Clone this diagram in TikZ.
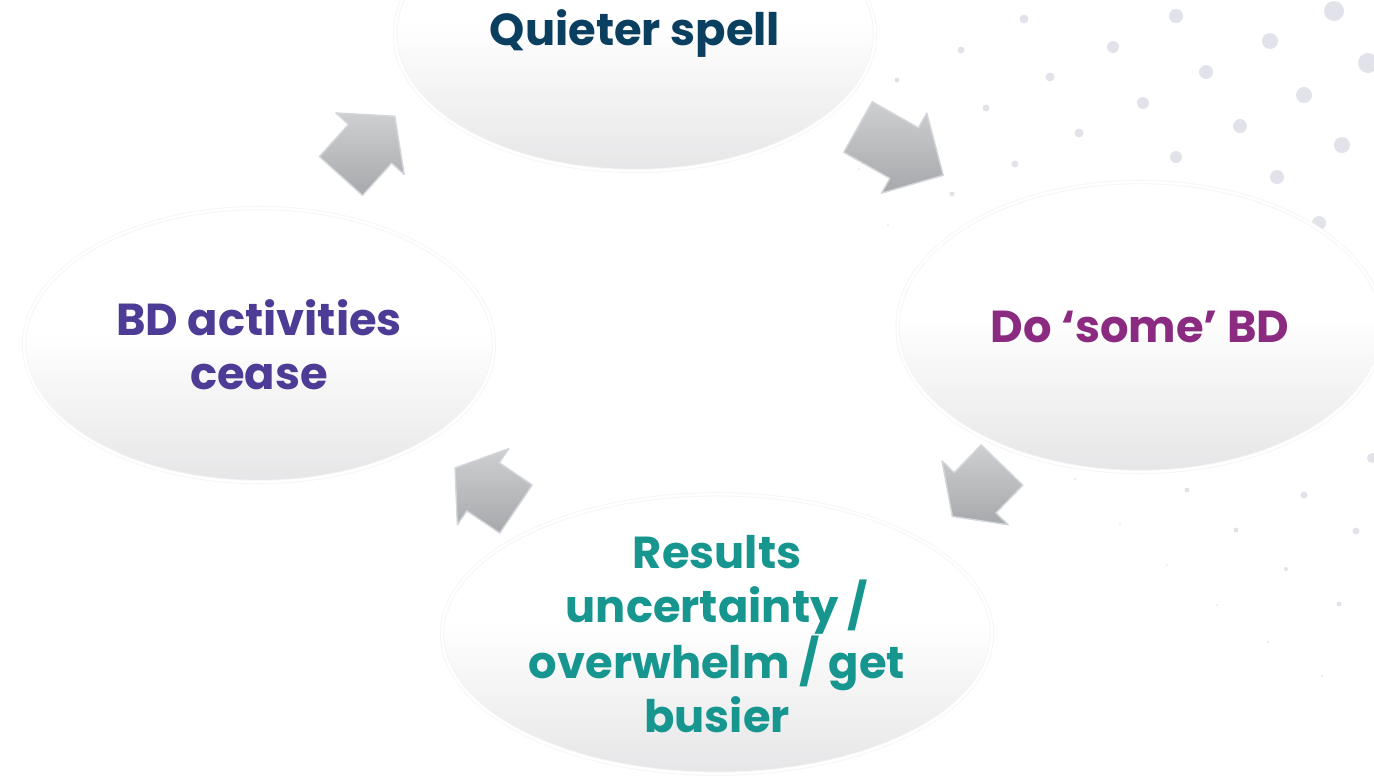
\documentclass[tikz,border=0pt]{standalone}
\usepackage{fontspec}
\setmainfont{Poppins}
\usepackage{tikz}
\usetikzlibrary{shapes.geometric,positioning}

\definecolor{quietblue}{HTML}{0A3F5F}
\definecolor{ceasepurple}{HTML}{4D3B95}
\definecolor{somepurple}{HTML}{8A2A80}
\definecolor{resultteal}{HTML}{17968F}
\definecolor{stagegray}{HTML}{E3E3E5}
\definecolor{dotgray}{HTML}{E2E2EA}
\definecolor{arrowgray}{HTML}{A6A8AB}
\definecolor{arrowedge}{HTML}{D3D7DC}

\pgfdeclareverticalshading{stageshade}{100bp}{color(0bp)=(stagegray); color(22bp)=(stagegray);
  color(52bp)=(white); color(100bp)=(white)}

\tikzset{
  stage/.style={ellipse, inner sep=0pt, shading=stageshade, draw=black!4, line width=0.5pt,
    double=white, double distance=1.4pt, align=center,
    font=\fontsize{25.5}{30.7}\selectfont\bfseries},
  cycle arrow/.pic={
    \filldraw[top color=arrowgray!55!white, bottom color=arrowgray, draw=arrowedge,
        line width=0.8pt, line join=round]
      (0,29) -- (53,29) -- (53,46) -- (98,0) -- (53,-46) -- (53,-29) -- (0,-29) -- cycle;
  }
}

\begin{document}
\begin{tikzpicture}[x=0.02cm, y=-0.02cm]
    \path[use as bounding box, clip] (0,0) rectangle (1374,778);

    \foreach \x/\y/\r in {897/80/2.5, 961/50/3.5, 1024/19/4.5,
        859/169/0.8, 986/108/3.5, 1050/77/4.5, 1113/47/6, 1176/16/7,
        888/225/0.8, 952/194/2.5, 1015/164/3.5, 1079/133/4.5, 1143/103/6,
        1206/72/7, 1270/41/8, 1334/11/10,
        1112/187/5, 1176/157/6, 1240/126/7, 1304/95/8, 1368/63/10,
        1277/177/7, 1342/145/8, 1319/223/7,
        1372/458/5, 1075/479/1, 1187/490/2.5, 1304/495/3.5, 1120/524/0.8,
        1236/530/2.5, 1356/531/3.5, 1167/565/0.8, 1286/569/2, 1217/605/1,
        1339/604/2.5, 1268/642/1, 1322/676/1}
        \fill[dotgray] (\x,\y) circle (\r);

    \node[stage, minimum width=9.6cm, minimum height=5.48cm, text=quietblue]
        (quiet) at (635,34) {Quieter spell};
    \node[stage, minimum width=9.7cm, minimum height=5.8cm, text=somepurple]
        (dosome) at (1140,327) {Do ‘some’ BD};
    \node[stage, minimum width=11cm, minimum height=5.48cm, text=resultteal]
        (results) at (717,634) {Results\\uncertainty /\\overwhelm / get\\busier};
    \node[stage, minimum width=9.4cm, minimum height=5.48cm, text=ceasepurple]
        (cease) at (259,345) {BD activities\\cease};

    \pic[rotate=48, xscale=0.82] at (341,176) {cycle arrow};
    \pic[rotate=-29.5] at (858,127) {cycle arrow};
    \pic[rotate=-134, xscale=0.73] at (1002,465) {cycle arrow};
    \pic[rotate=146, xscale=0.75] at (516,509) {cycle arrow};
\end{tikzpicture}
\end{document}
